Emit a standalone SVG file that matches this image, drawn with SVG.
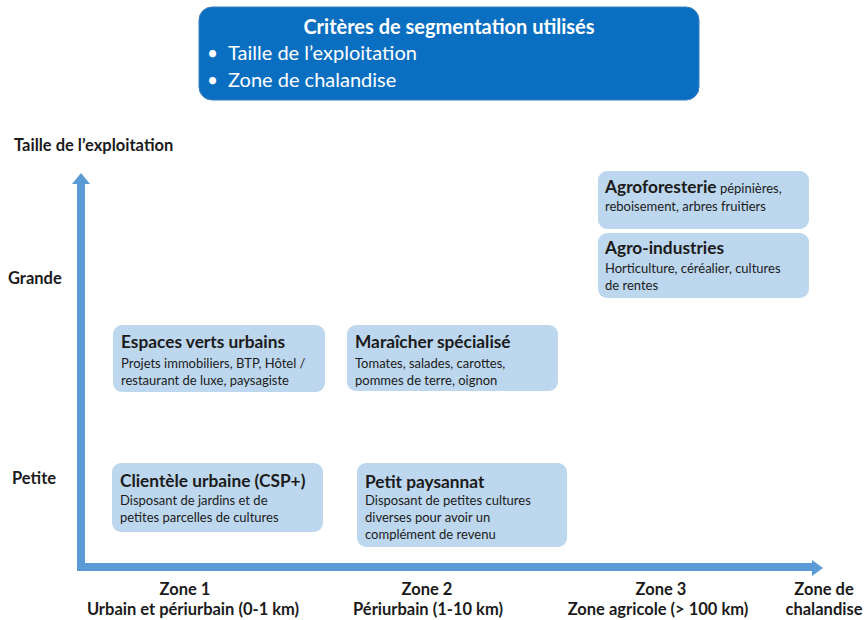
<svg xmlns="http://www.w3.org/2000/svg" width="867" height="620" viewBox="0 0 867 620">
<style>
text{font-family:Lato,"Liberation Sans",sans-serif;fill:#1b1b1b}
.box{fill:#BDD7EE}
.t{font-size:17.3px;font-weight:bold}
.b{font-size:13px}
.ax{font-size:16.5px;font-weight:bold}
.z{font-size:16.5px;font-weight:bold;text-anchor:middle}
.w{fill:#fff}
</style>
<g id="criteres">
<rect x="199" y="7" width="500" height="93" rx="13" fill="#0B6FC1" stroke="#3A7FC0" stroke-width="1"/>
<text class="w" x="449" y="34" font-size="20" font-weight="bold" text-anchor="middle">Critères de segmentation utilisés</text>
<text class="w" x="207" y="60" font-size="19">•</text>
<text class="w" x="228" y="60" font-size="20">Taille de l’exploitation</text>
<text class="w" x="207" y="87" font-size="19">•</text>
<text class="w" x="228" y="87" font-size="20">Zone de chalandise</text>
</g>
<g id="axes">
<path d="M81 183 V567 H813" fill="none" stroke="#5B9BD5" stroke-width="8" stroke-linejoin="miter"/>
<polygon points="72,184 81,173 90,184" fill="#5B9BD5"/>
<polygon points="812,560 823,568 812,576" fill="#5B9BD5"/>
</g>
<g id="axis-labels">
<text class="ax" x="14" y="151" font-size="17">Taille de l’exploitation</text>
<text class="ax" x="8" y="284">Grande</text>
<text class="ax" x="12" y="484">Petite</text>
</g>
<g id="agroforesterie">
<rect class="box" x="598" y="171" width="211" height="58" rx="9"/>
<text x="605" y="193"><tspan class="t">Agroforesterie</tspan><tspan class="b"> pépinières,</tspan></text>
<text class="b" x="605" y="211">reboisement, arbres fruitiers</text>
</g>
<g id="agro-industries">
<rect class="box" x="598" y="233" width="211" height="65" rx="9"/>
<text class="t" x="605" y="254">Agro-industries</text>
<text class="b" x="605" y="273">Horticulture, céréalier, cultures</text>
<text class="b" x="605" y="290">de rentes</text>
</g>
<g id="espaces-verts">
<rect class="box" x="113" y="325" width="212" height="67" rx="9"/>
<text class="t" x="121" y="348">Espaces verts urbains</text>
<text class="b" x="121" y="368">Projets immobiliers, BTP, Hôtel /</text>
<text class="b" x="121" y="385">restaurant de luxe, paysagiste</text>
</g>
<g id="maraicher">
<rect class="box" x="347" y="325" width="211" height="66" rx="9"/>
<text class="t" x="355" y="348">Maraîcher spécialisé</text>
<text class="b" x="355" y="368">Tomates, salades, carottes,</text>
<text class="b" x="355" y="385">pommes de terre, oignon</text>
</g>
<g id="clientele">
<rect class="box" x="112" y="463" width="211" height="69" rx="9"/>
<text class="t" x="120" y="487">Clientèle urbaine (CSP+)</text>
<text class="b" x="120" y="505">Disposant de jardins et de</text>
<text class="b" x="120" y="522">petites parcelles de cultures</text>
</g>
<g id="petit-paysannat">
<rect class="box" x="357" y="463" width="210" height="84" rx="9"/>
<text class="t" x="365" y="488">Petit paysannat</text>
<text class="b" x="365" y="505">Disposant de petites cultures</text>
<text class="b" x="365" y="522">diverses pour avoir un</text>
<text class="b" x="365" y="539">complément de revenu</text>
</g>
<g id="zones">
<text class="z" x="185" y="595">Zone 1</text>
<text class="z" x="193" y="615">Urbain et périurbain (0-1 km)</text>
<text class="z" x="427" y="595">Zone 2</text>
<text class="z" x="428" y="615">Périurbain (1-10 km)</text>
<text class="z" x="661" y="595">Zone 3</text>
<text class="z" x="658" y="615">Zone agricole (&gt; 100 km)</text>
<text class="z" x="824" y="595">Zone de</text>
<text class="z" x="824" y="615">chalandise</text>
</g>
</svg>
